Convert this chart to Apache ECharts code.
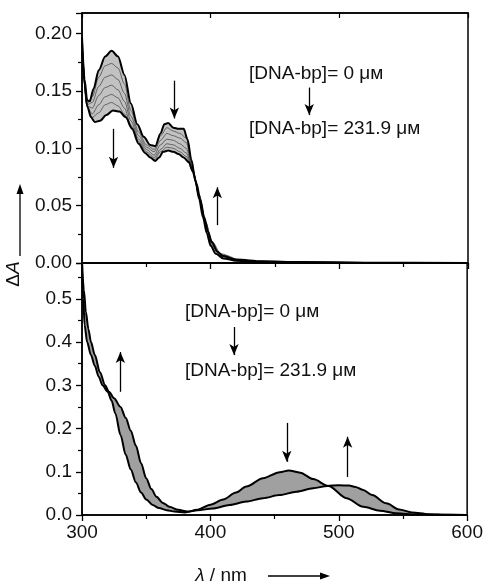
<!DOCTYPE html>
<html><head><meta charset="utf-8">
<script src="https://cdn.jsdelivr.net/npm/echarts@6/dist/echarts.min.js"></script>
<style>html,body{margin:0;padding:0;background:#fff}#c{width:486px;height:582px}</style>
</head><body><div id="c"></div>
<script>
// ---- Top panel (ΔA, 0 µM -> 231.9 µM) ----
const topWlI = [300,302,304,306,309,313,318,323,328,333,338,343,348,353,357,361,364,367,371,375,379,382,385,388,391,394,397,400,404,410,420,440,470,520,600];
const topI   = [0.197,0.160,0.142,0.141,0.152,0.168,0.180,0.185,0.180,0.164,0.139,0.121,0.110,0.103,0.102,0.113,0.121,0.122,0.118,0.117,0.117,0.108,0.090,0.073,0.056,0.040,0.026,0.015,0.008,0.004,0.002,0.001,0.0005,0,0];
const topWlF = [300,302,304,307,310,314,319,324,329,334,339,344,349,353,357,360,363,367,371,375,379,383,386,389,392,395,398,401,405,410,420,440,470,520,600];
const topF   = [0.192,0.155,0.137,0.127,0.123,0.124,0.129,0.133,0.132,0.127,0.117,0.104,0.096,0.092,0.089,0.092,0.097,0.098,0.097,0.095,0.092,0.088,0.080,0.069,0.055,0.040,0.027,0.018,0.010,0.006,0.003,0.0015,0.0008,0.0003,0];
// intermediate titration spectra (top panel)
const topWlM = [300,304,308,313,318,323,328,333,338,344,350,356,361,366,371,376,381,386,391,396,401,408,420];
const topM1 = [0.194,0.139,0.145,0.162,0.172,0.174,0.170,0.156,0.133,0.114,0.103,0.099,0.111,0.118,0.115,0.113,0.109,0.082,0.058,0.034,0.015,0.006,0.002];
const topM2 = [0.193,0.138,0.140,0.154,0.162,0.164,0.160,0.148,0.128,0.111,0.101,0.097,0.107,0.113,0.111,0.109,0.105,0.082,0.058,0.035,0.016,0.006,0.002];
const topM3 = [0.192,0.137,0.135,0.146,0.153,0.155,0.151,0.141,0.124,0.108,0.099,0.094,0.103,0.108,0.107,0.104,0.100,0.081,0.059,0.035,0.017,0.007,0.002];
const topM4 = [0.191,0.136,0.130,0.138,0.145,0.147,0.144,0.135,0.120,0.106,0.097,0.092,0.099,0.104,0.103,0.100,0.096,0.081,0.059,0.036,0.018,0.007,0.003];
const topM5 = [0.191,0.136,0.127,0.131,0.138,0.140,0.137,0.130,0.118,0.104,0.095,0.090,0.097,0.101,0.100,0.097,0.093,0.080,0.060,0.036,0.019,0.008,0.003];

// ---- Bottom panel ----
const botWlI = [300,301,302,304,307,310,313,316,320,323,326,330,334,338,342,346,350,355,360,366,372,380,390,400,410,420,428,441,454,461,470,480,492,506,519,532,545,560,600];
const botI   = [0.58,0.50,0.44,0.40,0.37,0.345,0.32,0.30,0.285,0.265,0.235,0.185,0.140,0.105,0.075,0.052,0.036,0.023,0.016,0.011,0.008,0.006,0.012,0.024,0.036,0.052,0.066,0.085,0.099,0.103,0.098,0.083,0.067,0.039,0.019,0.010,0.004,0.001,0];
const botWlF = [300,301.5,303,305,307,310,314,318,321,325,330,334,338,342,346,350,354,358,363,368,375,382,390,402,415,428,441,454,467,480,491,500,508,513,519,526,537,547,557,570,585,600];
const botF   = [0.58,0.52,0.47,0.43,0.40,0.37,0.33,0.30,0.285,0.27,0.25,0.225,0.195,0.160,0.120,0.085,0.060,0.042,0.028,0.019,0.012,0.008,0.011,0.015,0.023,0.031,0.039,0.046,0.054,0.062,0.067,0.069,0.068,0.065,0.058,0.046,0.027,0.013,0.006,0.002,0.0005,0];

// ---- axis ticks / labels ----
const xTicks = [300,400,500,600];
const topTicks = [0.00,0.05,0.10,0.15,0.20];
const botTicks = [0.0,0.1,0.2,0.3,0.4,0.5];
const labelStart = '[DNA-bp]= 0 μм';
const labelEnd = '[DNA-bp]= 231.9 μм';

const zip = (a,b) => a.map((v,i)=>[v,b[i]]);
const FONT = '"Liberation Sans", Arial, sans-serif';

function band(I, F, xi, yi, fill) {
  return {
    type:'custom', xAxisIndex:xi, yAxisIndex:yi, silent:true, clip:true, z:1,
    data:[[I[0][0], I[0][1]]],
    renderItem:(p, api) => {
      const pts = [];
      I.forEach(d => pts.push(api.coord(d)));
      for (let k = F.length-1; k>=0; k--) pts.push(api.coord(F[k]));
      return {type:'polygon', shape:{points:pts}, style:{fill:fill, stroke:null}};
    }
  };
}
function line(data, xi, yi, w, col, extra) {
  return Object.assign({type:'line', xAxisIndex:xi, yAxisIndex:yi, data:data, showSymbol:false,
    smooth:0.3, smoothMonotone:'x', clip:true, silent:true, z:3,
    lineStyle:{color:col, width:w}}, extra||{});
}
function arrows(list) {
  return {silent:true, symbol:['none','arrow'], symbolSize:[7,11], label:{show:false},
    lineStyle:{color:'#000', width:1.3, type:'solid'}, animation:false,
    data:list.map(a=>[{coord:a[0]},{coord:a[1]}])};
}

const tI = zip(topWlI, topI), tF = zip(topWlF, topF);
const bI = zip(botWlI, botI), bF = zip(botWlF, botF);
const mids = [topM1,topM2,topM3,topM4,topM5].map(m=>zip(topWlM,m));

const isTick = (v, step) => Math.abs(v/step - Math.round(v/step)) < 1e-6;

const xAxisBase = (gi, showLabel) => ({
  type:'value', gridIndex:gi, min:300, max:600, interval:100,
  axisLine:{show:true, lineStyle:{color:'#000', width:1.5}},
  axisTick:{show:true, inside:false, length:6, lineStyle:{color:'#000', width:1.3}},
  minorTick:{show:true, splitNumber:2, length:4, lineStyle:{color:'#000', width:1.2}},
  splitLine:{show:false},
  axisLabel:{show:showLabel, fontFamily:FONT, fontSize:19, color:'#111', margin:8,
    formatter:v => xTicks.includes(v) ? String(v) : ''}
});

const option = {
  animation:false,
  backgroundColor:'#fff',
  grid:[
    {left:82, top:13, width:386, height:250, show:true, borderColor:'#000', borderWidth:1.5},
    {left:82, top:263, width:386, height:252, show:true, borderColor:'#000', borderWidth:1.5}
  ],
  xAxis:[
    xAxisBase(0,false),
    xAxisBase(1,true),
    Object.assign(xAxisBase(0,false), {position:'top', axisTick:{show:true, inside:true, length:5, lineStyle:{color:'#000',width:1.2}}, minorTick:{show:false}})
  ],
  yAxis:[
    {type:'value', gridIndex:0, min:0, max:0.218, interval:0.05,
     axisLine:{show:true, lineStyle:{color:'#000', width:1.5}},
     axisTick:{show:true, inside:false, length:6, lineStyle:{color:'#000', width:1.3}},
     minorTick:{show:true, splitNumber:2, length:4, lineStyle:{color:'#000', width:1.2}},
     splitLine:{show:false}, showMaxLabel:false,
     axisLabel:{fontFamily:FONT, fontSize:19, color:'#111', margin:10,
       formatter:v => isTick(v,0.05) && v<=topTicks[topTicks.length-1]+1e-9 ? v.toFixed(2) : ''}},
    {type:'value', gridIndex:1, min:0, max:0.583, interval:0.1,
     axisLine:{show:true, lineStyle:{color:'#000', width:1.5}},
     axisTick:{show:true, inside:false, length:6, lineStyle:{color:'#000', width:1.3}},
     minorTick:{show:true, splitNumber:2, length:4, lineStyle:{color:'#000', width:1.2}},
     splitLine:{show:false}, showMaxLabel:false,
     axisLabel:{fontFamily:FONT, fontSize:19, color:'#111', margin:10,
       formatter:v => isTick(v,0.1) && v<=botTicks[botTicks.length-1]+1e-9 ? v.toFixed(1) : ''}}
  ],
  series:[
    band(tI, tF, 0, 0, '#c2c2c2'),
    ...mids.map(m => line(m, 0, 0, 0.8, '#4a4a4a', {z:2})),
    line(tI, 0, 0, 2, '#000', {markLine:arrows([
      [[324.5,0.117],[324.5,0.083]],
      [[371.8,0.159],[371.8,0.126]],
      [[405.2,0.033],[405.2,0.066]],
      [[476.6,0.153],[476.6,0.129]]
    ])}),
    line(tF, 0, 0, 2, '#000'),
    band(bI, bF, 1, 1, '#a0a0a0'),
    line(bI, 1, 1, 2, '#000', {markLine:arrows([
      [[329.9,0.285],[329.9,0.377]],
      [[459.5,0.213],[459.5,0.123]],
      [[506.9,0.088],[506.9,0.181]],
      [[418.4,0.435],[418.4,0.370]]
    ])}),
    line(bF, 1, 1, 2, '#000')
  ],
  graphic:[
    {type:'text', left:249, top:64, style:{text:labelStart, font:'19px '+FONT, fill:'#111'}},
    {type:'text', left:249, top:119, style:{text:labelEnd, font:'19px '+FONT, fill:'#111'}},
    {type:'text', left:185, top:302, style:{text:labelStart, font:'19px '+FONT, fill:'#111'}},
    {type:'text', left:185, top:361, style:{text:labelEnd, font:'19px '+FONT, fill:'#111'}},
    // y axis title with arrow
    {type:'line', shape:{x1:20, y1:256, x2:20, y2:190}, style:{stroke:'#000', lineWidth:1.3}},
    {type:'polygon', shape:{points:[[20,184],[16.5,194],[23.5,194]]}, style:{fill:'#000'}},
    {type:'text', x:14, y:274, rotation:Math.PI/2,
     style:{text:'{a|Δ}{b|A}', rich:{a:{font:'19px '+FONT, fill:'#111'}, b:{font:'italic 19px '+FONT, fill:'#111'}},
       textAlign:'center', textVerticalAlign:'middle'}},
    // x axis title with arrow
    {type:'text', x:221, y:576,
     style:{text:'{a|λ} / nm', rich:{a:{font:'italic 19px '+FONT, fill:'#111'}}, font:'19px '+FONT, fill:'#111',
       textAlign:'center', textVerticalAlign:'middle'}},
    {type:'line', shape:{x1:268, y1:576, x2:322, y2:576}, style:{stroke:'#000', lineWidth:1.3}},
    {type:'polygon', shape:{points:[[330,576],[320,572.5],[320,579.5]]}, style:{fill:'#000'}}
  ]
};
const chart = echarts.init(document.getElementById('c'), null, {renderer:'canvas'});
chart.setOption(option);
</script></body></html>
